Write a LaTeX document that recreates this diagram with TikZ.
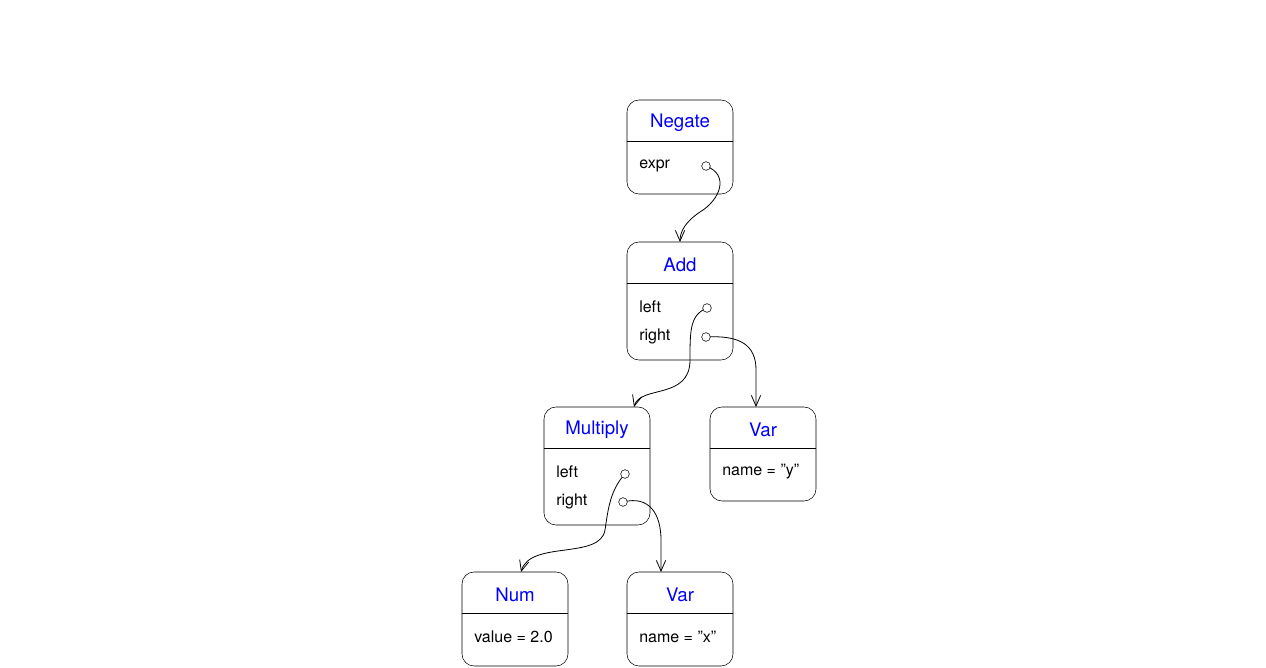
\documentclass[tikz,border=0pt]{standalone}
\usepackage{fontspec}
\setmainfont{TeX Gyre Heros}
\usetikzlibrary{arrows.meta}
\begin{document}
\begin{tikzpicture}[x=0.75pt,y=-0.75pt,
 box/.style={draw,rounded corners=9pt,minimum width=106*0.75pt,inner sep=0pt},
 head/.style={text=blue,font=\fontsize{14}{16}\selectfont},
 fld/.style={anchor=west,font=\fontsize{12}{14}\selectfont,inner sep=0pt},
 port/.style={circle,draw,fill=white,inner sep=0pt,minimum size=6.5pt},
 link/.style={-{Straight Barb[length=8pt,width=7pt]},line width=0.6pt}]
\useasboundingbox (0,0) rectangle (1266,667);
% boxes
\node[box,minimum height=94*0.75pt] (neg) at (680,147) {};
\node[box,minimum height=118*0.75pt] (add) at (680,301) {};
\node[box,minimum height=118*0.75pt] (mul) at (597,466) {};
\node[box,minimum height=94*0.75pt] (vary) at (763,454) {};
\node[box,minimum height=94*0.75pt] (num) at (515,619) {};
\node[box,minimum height=94*0.75pt] (varx) at (680,619) {};
\draw (627,141) -- (733,141);
\draw (627,283) -- (733,283);
\draw (544,448) -- (650,448);
\draw (710,448) -- (816,448);
\draw (462,613) -- (568,613);
\draw (627,613) -- (733,613);
% headers
\node[head] (hneg) at (680,123) {Negate};
\node[head] (hadd) at (680,265) {Add};
\node[head] (hmul) at (597,430) {Multiply};
\node[head] (hvary) at (763,430) {Var};
\node[head] (hnum) at (515,595) {Num};
\node[head] (hvarx) at (680,595) {Var};
% fields
\node[fld] (f1) at (639,166) {expr};
\node[fld] (f2) at (639,307) {left};
\node[fld] (f3) at (639,336) {right};
\node[fld] (f4) at (556,472) {left};
\node[fld] (f5) at (556,501) {right};
\node[fld] (f6) at (722,472) {name = "y"};
\node[fld] (f7) at (474,637) {value = 2.0};
\node[fld] (f8) at (639,637) {name = "x"};
% links
\coordinate (tneg) at (680,242);
\coordinate (tmul) at (634,407);
\coordinate (tvary) at (756,407);
\coordinate (tnum) at (521,572);
\coordinate (tvarx) at (661,572);
\draw[link] (706,166) .. controls (730,175) and (720,200) .. (700,212) .. controls (685,222) and (680,232) .. (tneg);
\draw[link] (707,308) .. controls (690,315) and (690,330) .. (690,360) .. controls (690,400) and (640,385) .. (tmul);
\draw[link] (706,337) .. controls (740,335) and (756,345) .. (756,370) -- (tvary);
\draw[link] (625,474) .. controls (610,490) and (608,510) .. (605,530) .. controls (600,560) and (530,540) .. (tnum);
\draw[link] (623,502) .. controls (650,495) and (661,515) .. (661,540) -- (tvarx);
% ports
\node[port] (p1) at (706,166) {};
\node[port] (p2) at (707,308) {};
\node[port] (p3) at (706,337) {};
\node[port] (p4) at (625,474) {};
\node[port] (p5) at (623,502) {};
\end{tikzpicture}
\end{document}
